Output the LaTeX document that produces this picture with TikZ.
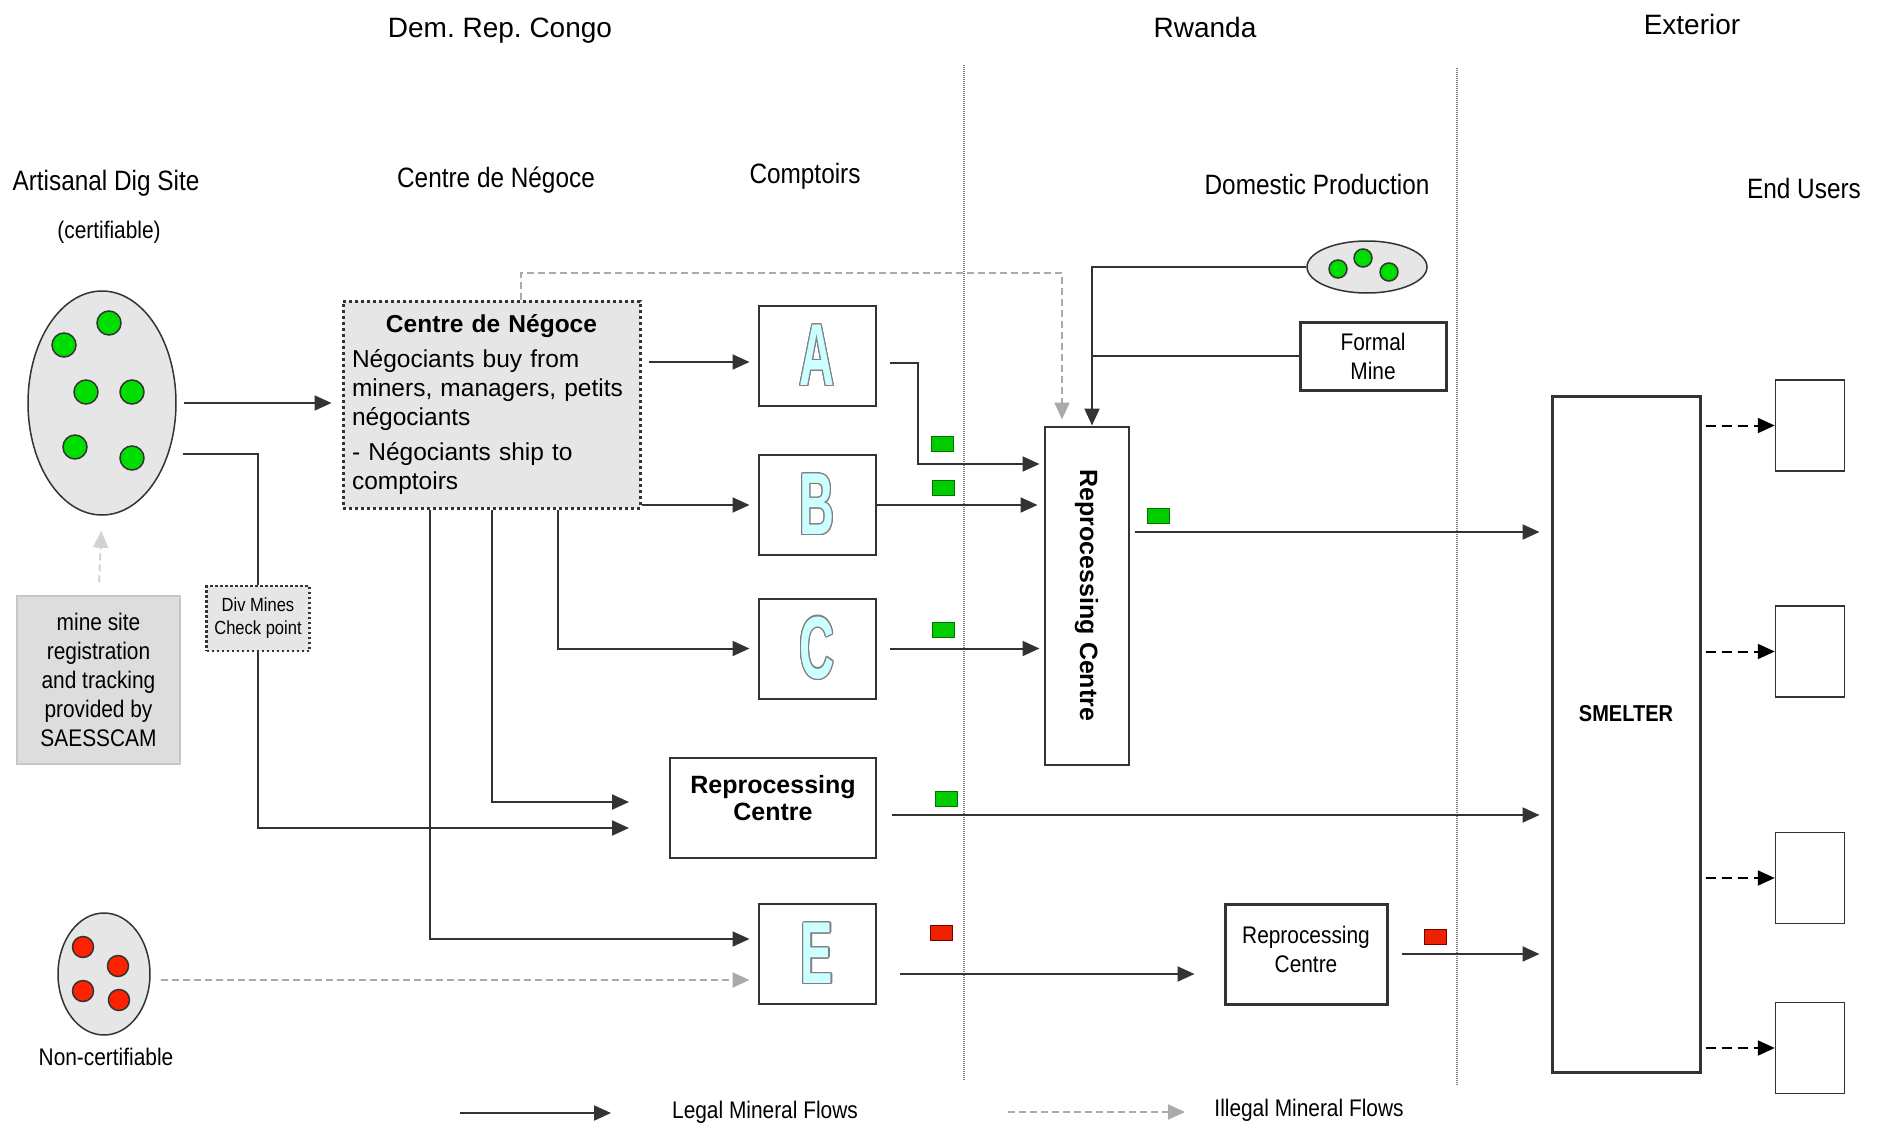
\documentclass[tikz,border=0pt]{standalone}
\usepackage{fontspec}
\setmainfont{Liberation Sans}
\newfontfamily\narrowfont[FakeStretch=0.87]{Liberation Sans}
\newfontfamily\letterfont[FakeStretch=0.55]{Liberation Sans}
\usepackage{graphicx}
\usepackage{contour}
\usetikzlibrary{arrows.meta,shapes.geometric}
\definecolor{linegray}{HTML}{333333}
\definecolor{boxgray}{HTML}{E6E6E6}
\definecolor{notegray}{HTML}{DDDDDD}
\definecolor{illgray}{HTML}{AAAAAA}
\definecolor{dotgreen}{HTML}{00DD00}
\definecolor{dotred}{HTML}{FF2200}
\definecolor{lettercyan}{HTML}{CCFFFF}
\definecolor{flaggreen}{HTML}{00CC00}
\definecolor{flagred}{HTML}{EE2200}
\contourlength{1.2pt}
\frenchspacing

\begin{document}
\begin{tikzpicture}[x=1pt,y=-1pt,
    region/.style={font=\fontsize{28}{32}\selectfont},
    header/.style={font=\narrowfont\fontsize{28}{32}\selectfont},
    smalltext/.style={font=\narrowfont\fontsize{24}{29}\selectfont,align=center},
    site/.style={ellipse,draw=linegray,line width=1.5pt,fill=boxgray,inner sep=0pt},
    boxnode/.style={rectangle,draw=linegray,line width=2pt,fill=white,inner sep=0pt,align=center},
    heavybox/.style={boxnode,line width=3pt},
    comptoir/.style={boxnode,minimum width=117pt,minimum height=100pt,text=lettercyan,
      font=\letterfont\bfseries\fontsize{88}{88}\selectfont},
    enduser/.style={boxnode,line width=1.5pt,minimum width=69pt,minimum height=91pt},
    legal/.style={draw=linegray,line width=2pt,-{Triangle[length=17pt,width=15pt]}},
    illegal/.style={draw=illgray,line width=2pt,dash pattern=on 7pt off 4pt,-{Triangle[length=17pt,width=15pt]}},
    userflow/.style={draw=black,line width=2pt,dash pattern=on 10pt off 6pt,-{Triangle[length=17pt,width=15pt]}},
    link/.style={draw=linegray,line width=2pt},
    divider/.style={draw=gray,line width=1.2pt,dash pattern=on 1pt off 1pt},
    greendot/.style={draw=linegray,line width=1.5pt,fill=dotgreen},
    reddot/.style={draw=linegray,line width=1.5pt,fill=dotred},
    gflag/.style={draw=green!45!black,line width=1pt,fill=flaggreen},
    rflag/.style={draw=red!45!black,line width=1pt,fill=flagred}]
  \useasboundingbox (0,0) rectangle (1881,1126);

  % country bands
  \draw[divider] (964,65) -- (964,1080);
  \draw[divider] (1457,68) -- (1457,1086);
  \node[region] (drc) at (500,31) {Dem. Rep. Congo};
  \node[region] (rwa) at (1205,27) {Rwanda};
  \node[region] (ext) at (1692,24) {Exterior};

  \node[header] (hdig) at (106,183) {Artisanal Dig Site};
  \node[smalltext] (hcert) at (109,232) {(certifiable)};
  \node[header] (hneg) at (496,180) {Centre de Négoce};
  \node[header] (hcmp) at (805,176) {Comptoirs};
  \node[header] (hdom) at (1317,184) {Domestic Production};
  \node[header] (hend) at (1804,188) {End Users};

  % mine sites
  \node[site,minimum width=148pt,minimum height=224pt] (dig) at (102,403) {};
  \foreach \p in {(64,345),(109,323),(86,392),(132,392),(75,447),(132,458)}
    \draw[greendot] \p circle (12pt);
  \node[site,minimum width=92pt,minimum height=122pt] (noncert) at (104,974) {};
  \foreach \p in {(83,947),(118,966),(83,991),(119,1000)}
    \draw[reddot] \p circle (10.5pt);
  \node[smalltext] (lnon) at (106,1057) {Non-certifiable};
  \node[site,minimum width=120pt,minimum height=52pt] (dom) at (1367,267) {};
  \foreach \p in {(1338,269),(1363,258),(1389,272)}
    \draw[greendot] \p circle (9pt);

  \node[boxnode,smalltext,draw=gray!45,fill=notegray,line width=1.5pt,
    minimum width=163pt,minimum height=168pt] (reg) at (98.5,680)
    {mine site\\registration\\and tracking\\provided by\\SAESSCAM};
  \node[boxnode,fill=boxgray,line width=2.5pt,dash pattern=on 2.5pt off 2.5pt,
    minimum width=103pt,minimum height=65pt,
    font=\narrowfont\fontsize{19}{23}\selectfont] (divm) at (258,618.5) {Div Mines\\Check point};

  \node[boxnode,fill=boxgray,line width=3pt,dash pattern=on 3pt off 3pt,
    minimum width=297pt,minimum height=207pt,text width=279pt,align=left,inner xsep=9pt,
    font=\fontsize{24.5}{29}\selectfont] (negoce) at (491.5,404.5)
    {\makebox[279pt][c]{\bfseries Centre de Négoce}\\[6pt]
     Négociants buy from\\miners, managers, petits\\négociants\\[6pt]
     - Négociants ship to\\comptoirs};

  % comptoirs
  \node[comptoir] (cmpA) at (817,356) {\contour{gray}{A}};
  \node[comptoir] (cmpB) at (817,505) {\contour{gray}{B}};
  \node[comptoir] (cmpC) at (817,648.5) {\contour{gray}{C}};
  \node[comptoir] (cmpE) at (817,954) {\contour{gray}{E}};

  \node[boxnode,minimum width=206pt,minimum height=100pt,
    font=\bfseries\fontsize{25}{27}\selectfont] (rpcongo) at (773,808) {Reprocessing\\Centre\\[-7pt]\mbox{}};
  \node[boxnode,minimum width=84pt,minimum height=338pt,
    font=\bfseries\fontsize{25}{27}\selectfont] (rpvert) at (1086.5,595.5)
    {\rotatebox{-90}{Reprocessing Centre}};
  \node[heavybox,smalltext,minimum width=146pt,minimum height=68pt] (formal) at (1373,356) {Formal\\Mine};
  \node[heavybox,smalltext,minimum width=162pt,minimum height=100pt] (rprw) at (1306,954) {Reprocessing\\Centre\\[-19pt]\mbox{}};
  \node[heavybox,minimum width=148pt,minimum height=676pt,
    font=\narrowfont\bfseries\fontsize{23}{27}\selectfont] (smelter) at (1626,734) {\raisebox{42pt}{SMELTER}};

  \node[enduser] (eu1) at (1810,425.5) {};
  \node[enduser] (eu2) at (1810,651.5) {};
  \node[enduser] (eu3) at (1810,878) {};
  \node[enduser] (eu4) at (1810,1048) {};

  % flows out of Congo
  \draw[legal,shorten <=7pt,shorten >=10pt] (dig.east) -- (negoce.west |- dig.east);
  \coordinate (digout) at (183,454);
  \draw[link] (digout) -| (divm.north);
  \draw[legal,shorten >=40pt] (divm.south) |- ([yshift=-20pt]rpcongo.west);
  \draw[legal,shorten >=40pt] ([xshift=0.5pt]negoce.south) |- ([yshift=6pt]rpcongo.west);
  \draw[legal,shorten <=7pt,shorten >=8pt] ([yshift=-6pt]negoce.east |- cmpA.west) -- ([yshift=-6pt]cmpA.west);
  \draw[legal,shorten >=8pt] (negoce.east |- cmpB.west) -- (cmpB.west);
  \draw[legal,shorten >=8pt] ([xshift=66.5pt]negoce.south) |- (cmpC.west);
  \draw[legal,shorten >=8pt] ([xshift=-61.5pt]negoce.south) |- ([yshift=15pt]cmpE.west);
  \draw[illegal,shorten <=10pt,shorten >=8pt] ([yshift=-6pt]noncert.east) -- ([yshift=-26pt]cmpE.west);
  \draw[illegal,draw=gray!35,shorten <=13pt,shorten >=15pt] (reg.north) -- (dig.south);
  \draw[illegal,shorten >=6pt] ([xshift=29.5pt]negoce.north) -- ++(0,-27) -| ([xshift=-24.5pt]rpvert.north);

  % into Rwanda
  \draw[legal,shorten >=4pt] ([xshift=13pt,yshift=-7pt]cmpA.east) -- ++(28,0) |- (rpvert.west |- 0,464);
  \draw[legal,shorten >=6pt] (cmpB.east) -- (rpvert.west |- cmpB.east);
  \draw[legal,shorten <=13pt,shorten >=4pt] (cmpC.east) -- (rpvert.west |- cmpC.east);
  \draw[legal] (dom.west) -| ([xshift=5.5pt]rpvert.north);
  \draw[link] (formal.west) -- ([xshift=5.5pt]rpvert.north |- formal.west);

  % to smelter and end users
  \draw[legal,shorten <=5pt,shorten >=11pt] (rpvert.east |- 0,532) -- (smelter.west |- 0,532);
  \draw[legal,shorten <=15pt,shorten >=11pt] (rpcongo.east |- 0,815) -- (smelter.west |- 0,815);
  \draw[legal,shorten <=23pt,shorten >=29pt] (cmpE.east |- 0,974) -- (rprw.west |- 0,974);
  \draw[legal,shorten <=13pt,shorten >=11pt] (rprw.east) -- (smelter.west |- rprw.east);
  \foreach \u in {eu1,eu2,eu3,eu4}
    \draw[userflow,shorten <=4pt] (smelter.east |- \u.west) -- (\u.west);

  % tags
  \foreach \x/\y in {942/444,943/488,1158/516,943/630,946/799}
    \draw[gflag] (\x-11,\y-7.5) rectangle ++(22,15);
  \foreach \x/\y in {941/933,1435/937}
    \draw[rflag] (\x-11,\y-7.5) rectangle ++(22,15);

  % legend
  \coordinate (lg1a) at (460,1113);
  \coordinate (lg1b) at (611,1113);
  \draw[legal] (lg1a) -- (lg1b);
  \node[smalltext] (lglegal) at (765,1112) {Legal Mineral Flows};
  \coordinate (lg2a) at (1008,1112);
  \coordinate (lg2b) at (1185,1112);
  \draw[illegal] (lg2a) -- (lg2b);
  \node[smalltext] (lgillegal) at (1309,1110) {Illegal Mineral Flows};
\end{tikzpicture}
\end{document}
